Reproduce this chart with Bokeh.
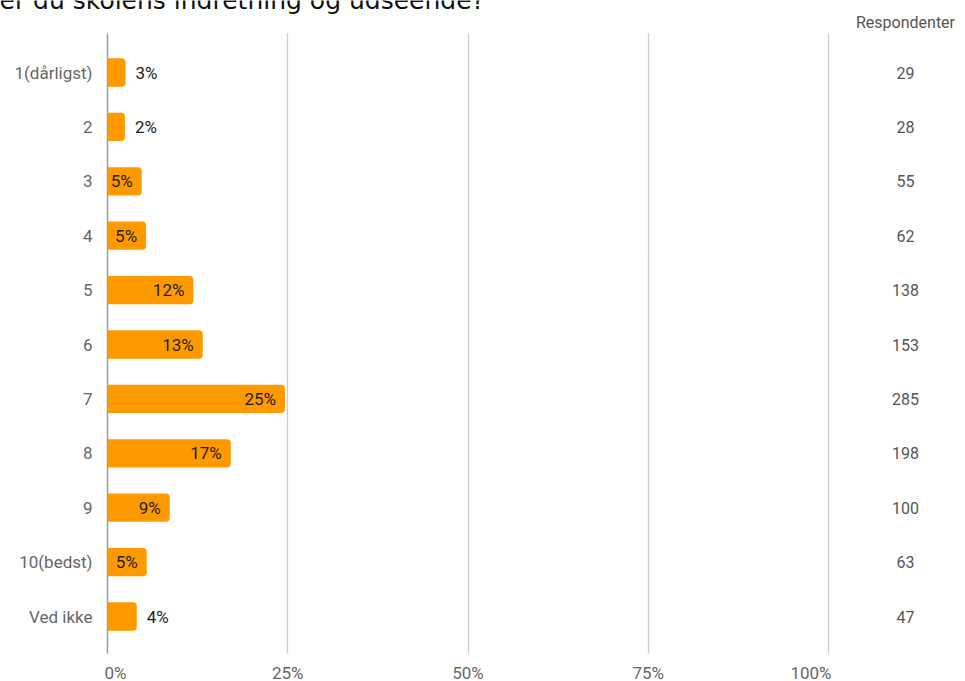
from bokeh.plotting import figure
from bokeh.models import Range1d, FixedTicker, Label, ColumnDataSource, Grid
from bokeh.core.properties import value
from bokeh.embed import file_html
from bokeh.resources import INLINE

categories = ["1(dårligst)", "2", "3", "4", "5", "6", "7", "8", "9", "10(bedst)", "Ved ikke"]
respondents = [29, 28, 55, 62, 138, 153, 285, 198, 100, 63, 47]
pct_labels = ["3%", "2%", "5%", "5%", "12%", "13%", "25%", "17%", "9%", "5%", "4%"]
x_ticks = [0, 0.25, 0.5, 0.75, 1.0]
x_tick_labels = ["0%", "25%", "50%", "75%", "100%"]
title_text = "er du skolens indretning og udseende?"
count_header = "Respondenter"

total = sum(respondents)
share = [r / total for r in respondents]
rows = list(range(len(categories)))
n = len(rows)

# ---- layout (pixels) ----
W, H = 965, 681
X0_PX, X1_PX = 107, 828          # pixel position of 0% and 100%
ROW0_PX, ROW_PX = 72, 54.4       # centre of first row, row pitch
GRID_TOP_PX, GRID_BOT_PX = 33, 653

x_lo = -X0_PX / (X1_PX - X0_PX)
x_hi = (W - X0_PX) / (X1_PX - X0_PX)
y_top = -ROW0_PX / ROW_PX
y_bot = (H - ROW0_PX) / ROW_PX
grid_top = (GRID_TOP_PX - ROW0_PX) / ROW_PX
grid_bot = (GRID_BOT_PX - ROW0_PX) / ROW_PX

p = figure(width=W, height=H, output_backend="svg", toolbar_location=None,
           x_range=Range1d(x_lo, x_hi), y_range=Range1d(y_bot, y_top),
           min_border=0, x_axis_type=None, y_axis_type=None)
p.outline_line_color = None
p.background_fill_color = "white"
p.border_fill_color = "white"
p.grid.visible = False

has_cb = "cross_bounds" in Grid.properties()
grid_kw = dict(cross_bounds=(grid_bot, grid_top)) if has_cb else {}
p.add_layout(Grid(dimension=0, ticker=FixedTicker(ticks=x_ticks[1:]),
                  grid_line_color="#cccccc", grid_line_width=1.3, **grid_kw))
p.add_layout(Grid(dimension=0, ticker=FixedTicker(ticks=x_ticks[:1]),
                  grid_line_color="#9a9a9a", grid_line_width=1.5, **grid_kw))
if not has_cb:
    p.grid.visible = False
    p.segment(x0=x_ticks[1:], x1=x_ticks[1:], y0=grid_top, y1=grid_bot,
              line_color="#cccccc", line_width=1.3)
    p.segment(x0=x_ticks[:1], x1=x_ticks[:1], y0=grid_top, y1=grid_bot,
              line_color="#9a9a9a", line_width=1.5)

lbl_font = value("Roboto")

# bars
p.hbar(y=rows, left=0, right=share, height=0.52, fill_color="#ff9900", line_color=None,
       border_radius=(0, 4, 4, 0))

# value labels: inside the bar when it fits, else just outside
inside = [s >= 0.045 for s in share]
src_in = ColumnDataSource(dict(y=[r for r, f in zip(rows, inside) if f],
                               x=[s for s, f in zip(share, inside) if f],
                               t=[t for t, f in zip(pct_labels, inside) if f]))
src_out = ColumnDataSource(dict(y=[r for r, f in zip(rows, inside) if not f],
                                x=[s for s, f in zip(share, inside) if not f],
                                t=[t for t, f in zip(pct_labels, inside) if not f]))
p.text(x="x", y="y", text="t", source=src_in, x_offset=-9, text_align="right",
       text_baseline="middle", text_font=lbl_font, text_font_size="17px",
       text_color="#1e1e1e")
p.text(x="x", y="y", text="t", source=src_out, x_offset=10, text_align="left",
       text_baseline="middle", text_font=lbl_font, text_font_size="17px",
       text_color="#1e1e1e")

# category labels (left of the 0% line)
p.text(x=[x_ticks[0]] * n, y=rows, text=categories, x_offset=-15, text_align="right",
       text_baseline="middle", text_font=lbl_font, text_font_size="17px",
       text_color="#666666")

# respondent counts column
p.text(x=[x_ticks[-1]] * n, y=rows, text=[str(c) for c in respondents], x_offset=77,
       text_align="center", text_baseline="middle", text_font=lbl_font,
       text_font_size="16px", text_color="#555555")

# x tick labels (ends aligned inward, like the source chart)
aligns = ["left"] + ["center"] * (len(x_ticks) - 2) + ["right"]
nudges = [-3] + [0] * (len(x_ticks) - 2) + [3]
for xt, lab, al, nd in zip(x_ticks, x_tick_labels, aligns, nudges):
    p.text(x=[xt], y=[grid_bot], text=[lab], x_offset=nd, y_offset=19, text_align=al,
           text_baseline="middle", text_font=lbl_font, text_font_size="17px",
           text_color="#666666")

# header and (cut-off) title
p.add_layout(Label(x=905, y=22, x_units="canvas", y_units="canvas", text=count_header,
                   text_font="Roboto", text_font_size="16px", text_color="#555555",
                   text_align="center", text_baseline="middle"))
p.add_layout(Label(x=-1, y=0, x_units="canvas", y_units="canvas", text=title_text,
                   text_font="DejaVu Sans", text_font_size="25px", text_color="#111111",
                   text_baseline="alphabetic"))

open("out.html", "w").write(file_html(p, INLINE))
